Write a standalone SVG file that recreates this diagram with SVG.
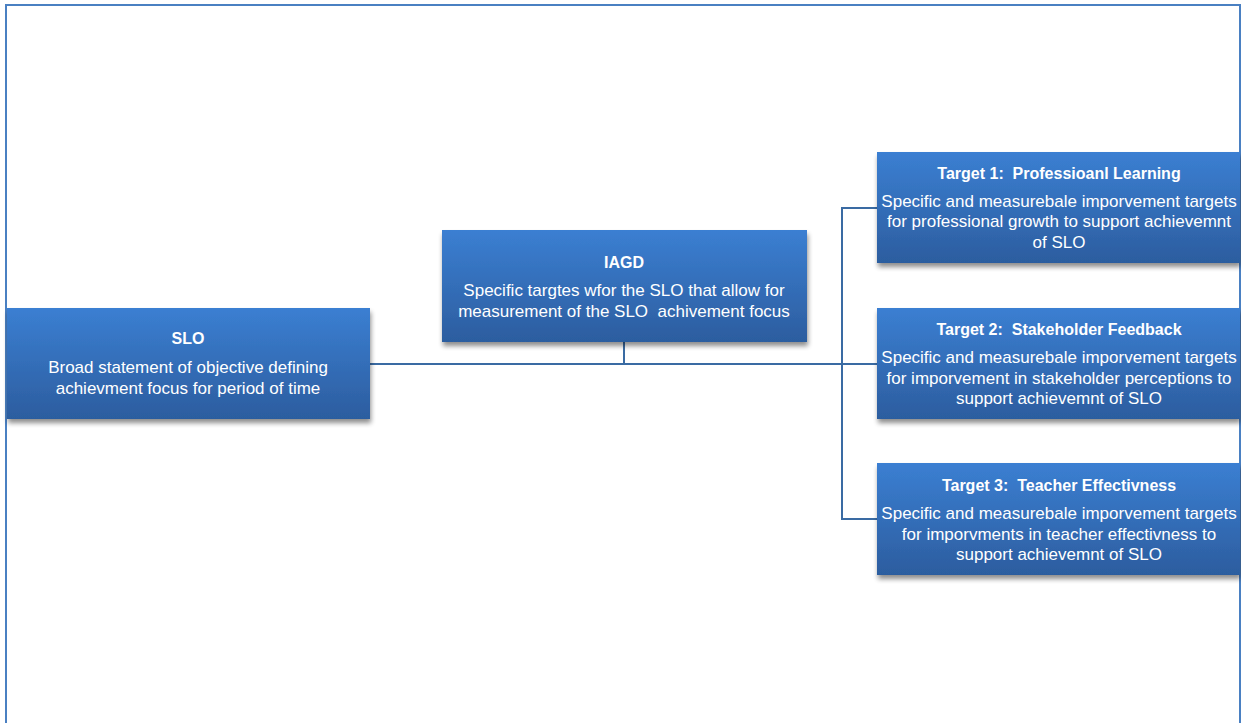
<svg xmlns="http://www.w3.org/2000/svg" width="1241" height="723" viewBox="0 0 1241 723">
<defs>
<linearGradient id="g" x1="0" y1="0" x2="0" y2="1">
<stop offset="0" stop-color="#3b7fd2"/>
<stop offset="1" stop-color="#2c5d9f"/>
</linearGradient>
<filter id="sh" x="-5%" y="-10%" width="112%" height="130%">
<feGaussianBlur in="SourceAlpha" stdDeviation="2.5"/>
<feOffset dx="1" dy="4" result="b"/>
<feComponentTransfer><feFuncA type="linear" slope="0.45"/></feComponentTransfer>
<feMerge><feMergeNode/><feMergeNode in="SourceGraphic"/></feMerge>
</filter>
</defs>
<style>
.box{fill:url(#g);filter:url(#sh)}
.t{font-family:"Liberation Sans",Arial,sans-serif;fill:#fff;text-anchor:middle;font-size:17px;white-space:pre}
.h{font-weight:bold;font-size:16px}
.c{fill:none;stroke:#3a6ba3;stroke-width:2}
</style>
<rect width="1241" height="723" fill="#fff"/>
<path d="M6 723 V5 H1240 V723" fill="none" stroke="#4a80c2" stroke-width="2"/>
<g id="connectors">
<path class="c" d="M370 364 H877"/>
<path class="c" d="M624 342 V364"/>
<path class="c" d="M877 208 H842 V519 H877"/>
</g>
<g id="slo">
<rect class="box" x="7" y="308" width="363" height="111"/>
<text class="t h" x="188" y="344">SLO</text>
<text class="t" x="188" y="373">Broad statement of objective defining</text>
<text class="t" x="188" y="394">achievment focus for period of time</text>
</g>
<g id="iagd">
<rect class="box" x="442" y="230" width="365" height="112"/>
<text class="t h" x="624" y="268">IAGD</text>
<text class="t" x="624" y="296">Specific targtes wfor the SLO that allow for</text>
<text class="t" x="624" y="317">measurement of the SLO  achivement focus</text>
</g>
<g id="target1">
<rect class="box" x="877" y="152" width="363" height="111"/>
<text class="t h" x="1059" y="179">Target 1:  Professioanl Learning</text>
<text class="t" x="1059" y="207">Specific and measurebale imporvement targets</text>
<text class="t" x="1059" y="227">for professional growth to support achievemnt</text>
<text class="t" x="1059" y="248">of SLO</text>
</g>
<g id="target2">
<rect class="box" x="877" y="308" width="363" height="111"/>
<text class="t h" x="1059" y="335">Target 2:  Stakeholder Feedback</text>
<text class="t" x="1059" y="363">Specific and measurebale imporvement targets</text>
<text class="t" x="1059" y="384">for imporvement in stakeholder perceptions to</text>
<text class="t" x="1059" y="404">support achievemnt of SLO</text>
</g>
<g id="target3">
<rect class="box" x="877" y="463" width="363" height="112"/>
<text class="t h" x="1059" y="491">Target 3:  Teacher Effectivness</text>
<text class="t" x="1059" y="519">Specific and measurebale imporvement targets</text>
<text class="t" x="1059" y="540">for imporvments in teacher effectivness to</text>
<text class="t" x="1059" y="560">support achievemnt of SLO</text>
</g>
</svg>
